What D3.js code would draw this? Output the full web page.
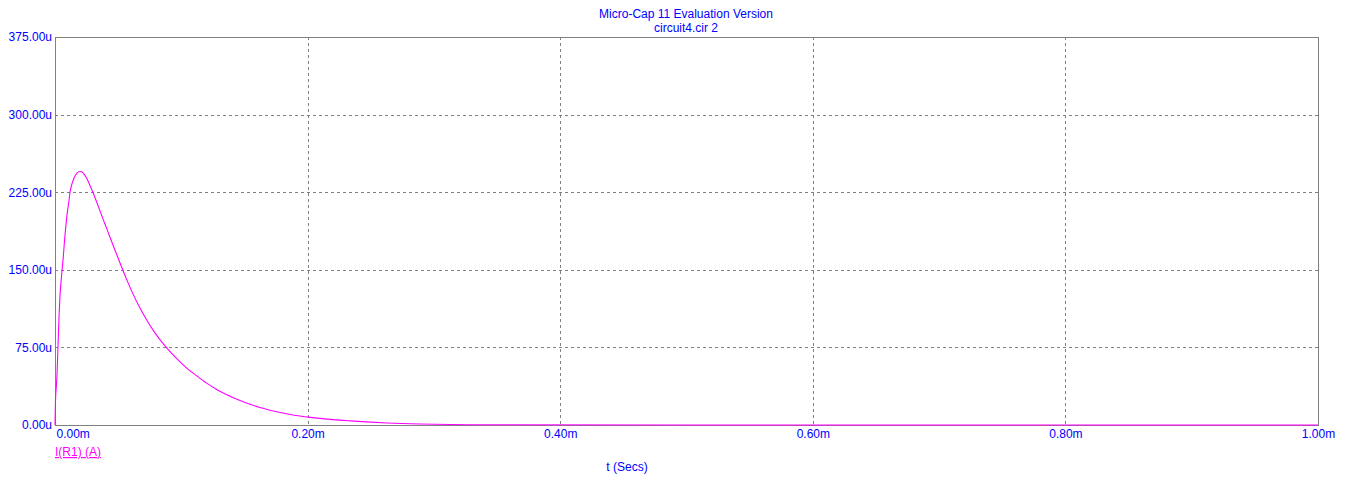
<!DOCTYPE html>
<html>
<head>
<meta charset="utf-8">
<script src="https://cdn.jsdelivr.net/npm/d3@7"></script>
<style>
  html, body { margin: 0; padding: 0; background: #fff; }
  svg { display: block; }
  text { font-family: "Liberation Sans", Arial, sans-serif; }
</style>
</head>
<body>
<svg id="chart" width="1353" height="487"></svg>
<script>
// ---- data ----
const titleLines = ["Micro-Cap 11 Evaluation Version", "circuit4.cir 2"];
const xLabel = "t (Secs)";
const seriesName = "I(R1) (A)";
const xTicks = [0, 0.2, 0.4, 0.6, 0.8, 1.0];                 // ms
const xTickLabels = ["0.00m", "0.20m", "0.40m", "0.60m", "0.80m", "1.00m"];
const yTicks = [0, 75, 150, 225, 300, 375];                  // uA
const yTickLabels = ["0.00u", "75.00u", "150.00u", "225.00u", "300.00u", "375.00u"];
const timeMs = [0, 0.0004, 0.001, 0.0016, 0.0024, 0.0032, 0.004, 0.0051, 0.0066, 0.0074, 0.0085, 0.0097, 0.0111, 0.0119, 0.0132, 0.015, 0.0174, 0.0198, 0.0214, 0.0224, 0.0251, 0.0277, 0.0303, 0.033, 0.0356, 0.0382, 0.0409, 0.0462, 0.0515, 0.0568, 0.062, 0.0673, 0.0726, 0.0778, 0.0831, 0.0871, 0.0937, 0.099, 0.1043, 0.1122, 0.1201, 0.128, 0.1306, 0.1386, 0.1465, 0.1544, 0.1623, 0.1702, 0.1782, 0.1861, 0.194, 0.2006, 0.2098, 0.2201, 0.2336, 0.2468, 0.2626, 0.289, 0.3418, 0.5, 0.75, 1.0];
const currentUA = [0, 24, 36, 49, 77, 105, 126, 143, 163, 176, 191, 205, 217, 225, 232, 238.5, 243.5, 245, 244.5, 243.5, 238.5, 231.5, 224, 215.5, 207, 198.5, 190, 173, 156.6, 140.5, 126, 113, 101.5, 91.5, 82.5, 76.5, 67.5, 61, 55, 47.5, 40.5, 34.4, 32.6, 27.7, 23.6, 20.0, 16.9, 14.3, 12.1, 10.2, 8.7, 7.6, 6.4, 5.2, 4.0, 3.0, 2.0, 1.0, 0.3, 0, 0, 0];

// ---- layout ----
const svg = d3.select("#chart");
const plot = { left: 55, right: 1318, top: 37, bottom: 425 };
const x = d3.scaleLinear().domain([0, 1.0]).range([plot.left, plot.right]);
const y = d3.scaleLinear().domain([0, 375]).range([plot.bottom, plot.top]);
const blue = "#0000ff", mag = "#ff00ff", gray = "#808080";

// title
svg.selectAll("text.title").data(titleLines).join("text")
  .attr("class", "title")
  .attr("x", 686).attr("y", (d, i) => 18 + i * 14)
  .attr("text-anchor", "middle").attr("font-size", 12).attr("fill", blue)
  .text(d => d);

// grid
const gx = svg.append("g").attr("class", "grid");
gx.selectAll("line.v").data(xTicks.slice(1, -1)).join("line")
  .attr("x1", d => Math.round(x(d)) + 0.5).attr("x2", d => Math.round(x(d)) + 0.5)
  .attr("y1", plot.top).attr("y2", plot.bottom)
  .attr("stroke", gray).attr("stroke-dasharray", "3,3").attr("shape-rendering", "crispEdges");
gx.selectAll("line.h").data(yTicks.slice(1, -1)).join("line")
  .attr("y1", d => Math.round(y(d)) + 0.5).attr("y2", d => Math.round(y(d)) + 0.5)
  .attr("x1", plot.left).attr("x2", plot.right)
  .attr("stroke", gray).attr("stroke-dasharray", "3,3").attr("shape-rendering", "crispEdges");

// frame
svg.append("rect")
  .attr("x", plot.left + 0.5).attr("y", plot.top + 0.5)
  .attr("width", plot.right - plot.left).attr("height", plot.bottom - plot.top)
  .attr("fill", "none").attr("stroke", gray).attr("shape-rendering", "crispEdges");

// axes (labels only)
const yAxis = d3.axisLeft(y).tickValues(yTicks)
  .tickFormat((d, i) => yTickLabels[i]).tickSize(0).tickPadding(3);
const ya = svg.append("g").attr("transform", `translate(${plot.left},0)`).call(yAxis);
ya.select(".domain").remove();
ya.selectAll("text").attr("fill", blue).attr("font-size", 12)
  .attr("font-family", "'Liberation Sans', Arial, sans-serif");

const xAxis = d3.axisBottom(x).tickValues(xTicks)
  .tickFormat((d, i) => xTickLabels[i]).tickSize(0).tickPadding(4);
const xa = svg.append("g").attr("transform", `translate(0,${plot.bottom})`).call(xAxis);
xa.select(".domain").remove();
xa.selectAll("text").attr("fill", blue).attr("font-size", 12)
  .attr("font-family", "'Liberation Sans', Arial, sans-serif");
xa.selectAll(".tick").filter(d => d === 0).select("text")
  .attr("text-anchor", "start").attr("x", 1);

// series
const line = d3.line().curve(d3.curveMonotoneX)
  .x((d, i) => x(timeMs[i])).y(d => y(d));
svg.append("path").datum(currentUA)
  .attr("d", line).attr("fill", "none").attr("stroke", mag).attr("stroke-width", 1.1);

// legend
svg.append("text").attr("x", plot.left).attr("y", 456)
  .attr("font-size", 12).attr("fill", mag).attr("text-decoration", "underline")
  .text(seriesName);

// x label
svg.append("text").attr("x", 627).attr("y", 471)
  .attr("text-anchor", "middle").attr("font-size", 12).attr("fill", blue)
  .text(xLabel);
</script>
</body>
</html>
